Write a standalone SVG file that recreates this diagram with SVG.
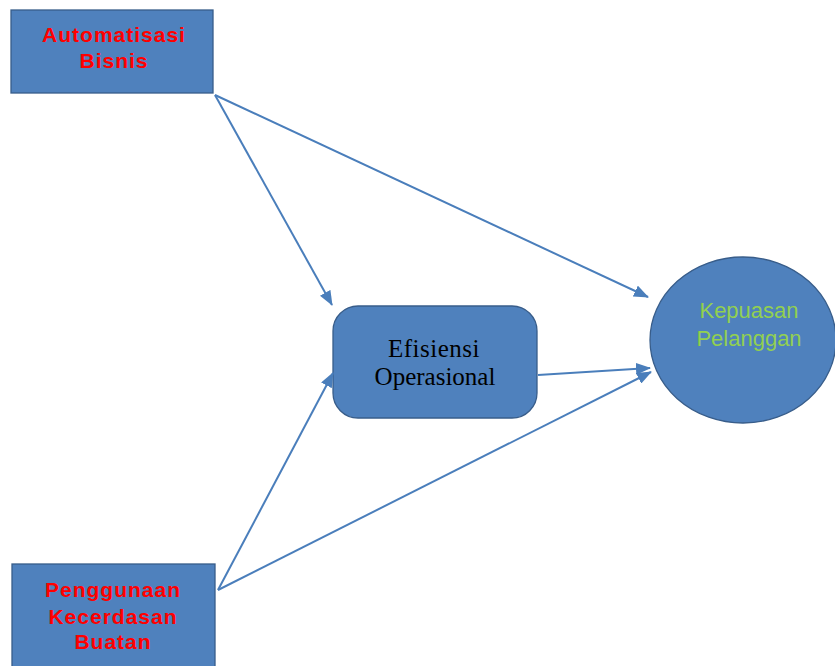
<svg xmlns="http://www.w3.org/2000/svg" width="835" height="666" viewBox="0 0 835 666">
<defs>
<style>
.box{fill:#4f81bd;stroke:#385d8a;stroke-width:1.3}
.red{font-family:"Liberation Sans",Arial,sans-serif;font-weight:bold;font-size:21px;fill:#ff0000;text-anchor:middle;letter-spacing:1px}
.blk{font-family:"Liberation Serif","Times New Roman",serif;font-size:25px;fill:#000;text-anchor:middle}
.grn{font-family:"Liberation Sans",Arial,sans-serif;font-size:22px;fill:#92d050;text-anchor:middle}
.con{stroke:#4a7ebb;stroke-width:2;fill:none;marker-end:url(#ah)}
</style>
<marker id="ah" viewBox="0 0 15 12" refX="14" refY="6" markerWidth="15" markerHeight="12" markerUnits="userSpaceOnUse" orient="auto">
<path d="M0,0 L15,6 L0,12 z" fill="#4a7ebb"/>
</marker>
</defs>
<rect width="835" height="666" fill="#fff"/>
<g id="n-automatisasi">
<rect class="box" x="11" y="10" width="202" height="83"/>
<text class="red" x="114" y="42">Automatisasi</text>
<text class="red" x="114" y="68">Bisnis</text>
</g>
<g id="n-penggunaan">
<rect class="box" x="12" y="564" width="203" height="110"/>
<text class="red" x="113" y="597" letter-spacing="1.3">Penggunaan</text>
<text class="red" x="113" y="624" letter-spacing="1.3">Kecerdasan</text>
<text class="red" x="113" y="649" letter-spacing="1.3">Buatan</text>
</g>
<g id="n-efisiensi">
<rect class="box" x="333" y="306" width="204" height="112" rx="25" ry="25"/>
<text class="blk" x="434" y="357" letter-spacing="0.5">Efisiensi</text>
<text class="blk" x="435" y="385">Operasional</text>
</g>
<g id="n-kepuasan">
<ellipse class="box" cx="743" cy="340" rx="93" ry="83"/>
<text class="grn" x="749" y="318">Kepuasan</text>
<text class="grn" x="749" y="346">Pelanggan</text>
</g>
<g id="connectors">
<line class="con" x1="215" y1="95" x2="332" y2="305"/>
<line class="con" x1="215" y1="95" x2="648" y2="297"/>
<line class="con" x1="538" y1="375" x2="650" y2="368"/>
<line class="con" x1="218" y1="590" x2="333" y2="373"/>
<line class="con" x1="218" y1="590" x2="651" y2="372"/>
</g>
</svg>
